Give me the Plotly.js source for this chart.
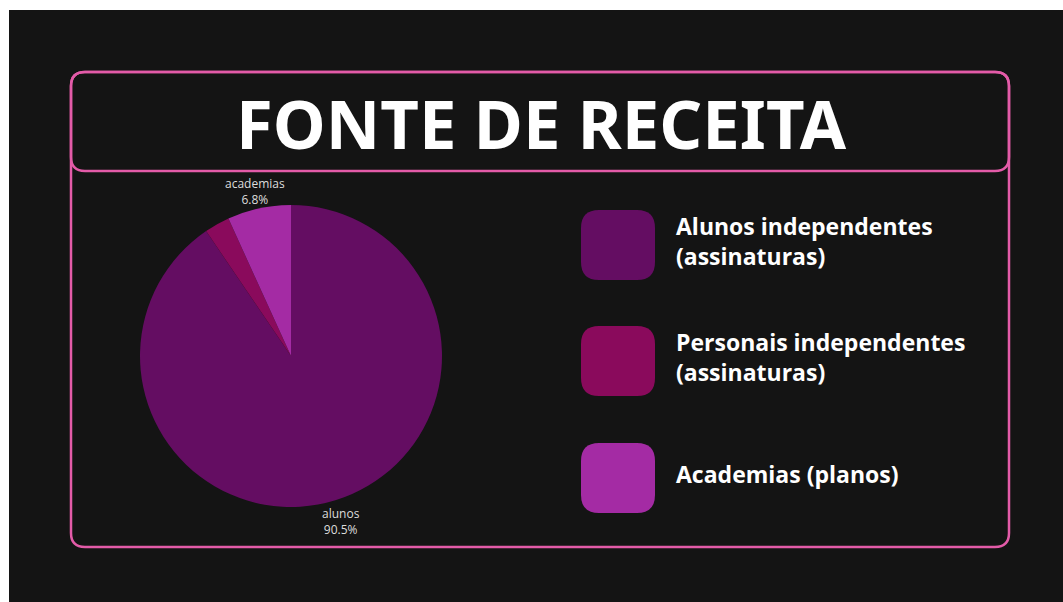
<!DOCTYPE html>
<html><head><meta charset="utf-8">
<script src="https://cdn.plot.ly/plotly-3.0.1.min.js"></script>
<style>html,body{margin:0;padding:0;background:#fff;}#c{width:1063px;height:602px;}</style>
</head><body><div id="c"></div>
<script>
const W = 1063, H = 602;
const sliceLabels = ['alunos', 'personais', 'academias'];
const sliceValues = [90.5, 2.7, 6.8];
const sliceColors = ['#640d62', '#8a0a5c', '#a42ba4'];
const sliceLabelShown = [true, false, true];
const legendTexts = ['Alunos independentes<br>(assinaturas)', 'Personais independentes<br>(assinaturas)', 'Academias (planos)'];
const titleText = 'FONTE DE RECEITA';

const px = x => x / W, py = y => 1 - y / H;
function rrect(x0, y0, x1, y1, r) {
  const rx = r / W, ry = r / H;
  const X0 = px(x0), X1 = px(x1), Y0 = py(y0), Y1 = py(y1);
  return `M${X0 + rx},${Y0} L${X1 - rx},${Y0} Q${X1},${Y0} ${X1},${Y0 - ry} L${X1},${Y1 + ry} Q${X1},${Y1} ${X1 - rx},${Y1} L${X0 + rx},${Y1} Q${X0},${Y1} ${X0},${Y1 + ry} L${X0},${Y0 - ry} Q${X0},${Y0} ${X0 + rx},${Y0} Z`;
}
const pink = '#e35ba8';
const shapes = [
  {type: 'rect', xref: 'paper', yref: 'paper', x0: px(9), x1: 1, y0: 0, y1: py(10), fillcolor: '#141414', line: {width: 0}, layer: 'below'},
  {type: 'path', xref: 'paper', yref: 'paper', path: rrect(71, 72, 1009, 547, 14), line: {color: pink, width: 2.5}},
  {type: 'path', xref: 'paper', yref: 'paper', path: rrect(71, 72, 1009, 171, 14), line: {color: pink, width: 2.5}}
];
const annotations = [
  {xref: 'paper', yref: 'paper', x: px(541), y: py(123), text: '<b>' + titleText + '</b>', showarrow: false,
   font: {family: 'Noto Sans', size: 67, color: '#ffffff'}, xanchor: 'center', yanchor: 'middle'}
];
const boxTops = [210, 326, 443];
legendTexts.forEach((t, i) => {
  const top = boxTops[i];
  shapes.push({type: 'path', xref: 'paper', yref: 'paper', path: rrect(581, top, 655, top + 70, 18),
    fillcolor: sliceColors[i], line: {width: 0}});
  annotations.push({xref: 'paper', yref: 'paper', x: px(674), y: py(top + 31), text: '<b>' + t + '</b>',
    showarrow: false, align: 'left', xanchor: 'left', yanchor: 'middle',
    font: {family: 'Open Sans', size: 23, color: '#ffffff'}});
});

// pie geometry (pixels)
const cx = 291, cy = 356, R = 151;
const total = sliceValues.reduce((a, b) => a + b, 0);
let cum = 0;
sliceValues.forEach((v, i) => {
  const mid = (cum + v / 2) / total * 2 * Math.PI; // clockwise from top
  cum += v;
  if (!sliceLabelShown[i]) return;
  const rr = R * 1.13;
  const x = cx + Math.sin(mid) * rr, y = cy - Math.cos(mid) * rr + 2;
  annotations.push({xref: 'paper', yref: 'paper', x: px(x), y: py(y), showarrow: false,
    xanchor: 'center', yanchor: 'middle', align: 'center',
    text: sliceLabels[i] + '<br>' + (v / total * 100).toFixed(1) + '%',
    font: {family: 'Open Sans', size: 12, color: '#dddddd'}});
});

const data = [{
  type: 'pie', labels: sliceLabels, values: sliceValues, sort: false, direction: 'clockwise', rotation: 0,
  marker: {colors: sliceColors, line: {width: 0}},
  textinfo: 'none',
  domain: {x: [px(cx - R), px(cx + R)], y: [py(cy + R), py(cy - R)]},
  hoverinfo: 'none', showlegend: false
}];
const layout = {
  width: W, height: H, margin: {l: 0, r: 0, t: 0, b: 0},
  paper_bgcolor: '#ffffff', plot_bgcolor: 'rgba(0,0,0,0)',
  shapes, annotations, showlegend: false
};
Plotly.newPlot('c', data, layout, {displayModeBar: false, staticPlot: true});
</script></body></html>
